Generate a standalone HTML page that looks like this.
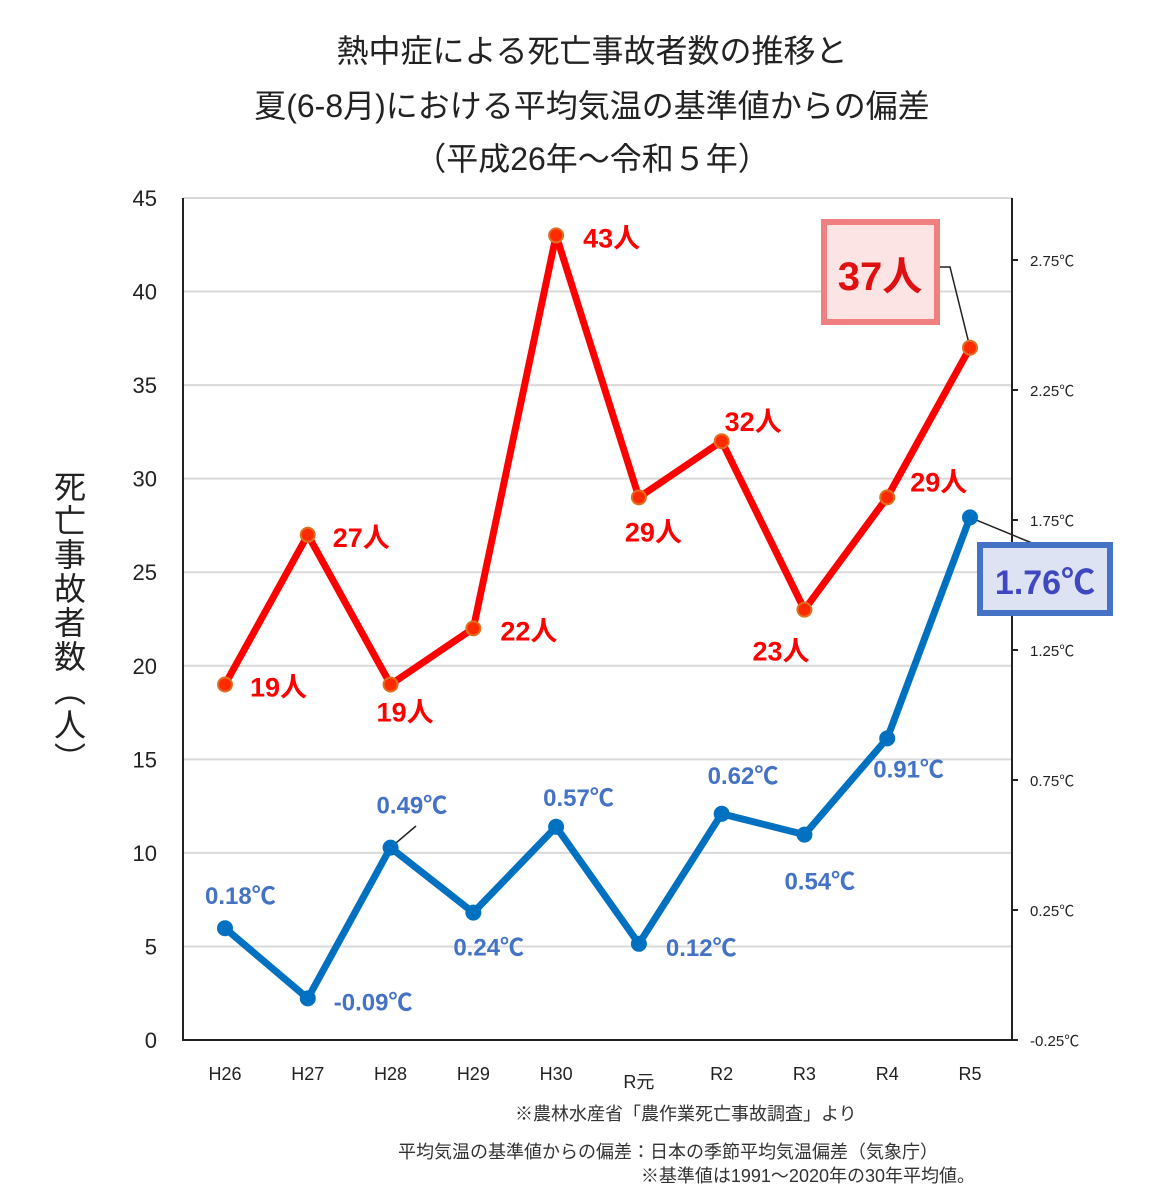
<!DOCTYPE html>
<html><head><meta charset="utf-8"><style>
body{margin:0;background:#fff}
svg{display:block;font-family:"Liberation Sans","Noto Sans CJK JP",sans-serif}
</style></head><body>
<svg id="c" width="1163" height="1200" viewBox="0 0 1163 1200">
<g font-size="32" fill="#222" text-anchor="middle">
<text x="592" y="62">熱中症による死亡事故者数の推移と</text>
<text x="592" y="117">夏(6-8月)における平均気温の基準値からの偏差</text>
<text x="592" y="170">（平成26年～令和５年）</text>
</g>
<text font-size="32" fill="#222" writing-mode="tb" x="68" y="470" style="writing-mode:vertical-rl" letter-spacing="2">死亡事故者数（人）</text>
<g font-size="18" fill="#333">
<text x="515" y="1120">※農林水産省「農作業死亡事故調査」より</text>
<text x="398" y="1158">平均気温の基準値からの偏差：日本の季節平均気温偏差（気象庁）</text>
<text x="975" y="1182" text-anchor="end">※基準値は1991～2020年の30年平均値。</text>
</g>
</svg>
<script>
const categories=["H26","H27","H28","H29","H30","R元","R2","R3","R4","R5"];
const deaths=[19,27,19,22,43,29,32,23,29,37];
const temps=[0.18,-0.09,0.49,0.24,0.57,0.12,0.62,0.54,0.91,1.76];
const leftTicks=[0,5,10,15,20,25,30,35,40,45];
const rightTicks=[-0.25,0.25,0.75,1.25,1.75,2.25,2.75];
const NS="http://www.w3.org/2000/svg";
const svg=document.getElementById('c');
const X0=183,X1=1012,Y0=1040,Y45=198;
const xs=i=>225+i*(970-225)/(categories.length-1);
const yL=v=>Y0-(v/45)*(Y0-Y45);
const yR=v=>Y0-(v+0.25)*260;
function mk(tag,at,parent){const e=document.createElementNS(NS,tag);for(const k in at)e.setAttribute(k,at[k]);(parent||svg).appendChild(e);return e;}
// grid
leftTicks.forEach(t=>{
 if(t>0){const g=mk('line',{x1:X0,x2:X1,y1:yL(t),y2:yL(t),stroke:'#d9d9d9','stroke-width':2});
 
 }
 const tx=mk('text',{x:157,y:yL(t)+8,'text-anchor':'end','font-size':22,fill:'#222'});
 tx.textContent=t;
 
 
});
rightTicks.forEach(t=>{
 const l=mk('line',{x1:X1,x2:X1+6,y1:yR(t),y2:yR(t),stroke:'#222','stroke-width':2});
 
 
 const tx=mk('text',{x:1030,y:yR(t)+6,'font-size':15,fill:'#222'});
 tx.textContent=t.toFixed(2)+'℃';
 
 
});
const ax=mk('path',{d:`M${X0} ${Y45}V${Y0}H${X1}V${Y45}`,fill:'none',stroke:'#222','stroke-width':2});


categories.forEach((c,i)=>{
 const tx=mk('text',{x:xs(i),y:c==='R元'?1088:1080,'text-anchor':'middle','font-size':18,fill:'#222'});
 tx.textContent=c;
 
 
});
// red line
const rp=mk('polyline',{points:deaths.map((v,i)=>xs(i)+','+yL(v)).join(' '),fill:'none',stroke:'#ff0000','stroke-width':7,'stroke-linejoin':'round'});


const bp=mk('polyline',{points:temps.map((v,i)=>xs(i)+','+yR(v)).join(' '),fill:'none',stroke:'#0070c0','stroke-width':7,'stroke-linejoin':'round'});


const rOff=[[25,12],[25,12],[-14,37],[27,12],[27,12],[-14,44],[3,-10],[-52,51],[23,-6]];
const bOff=[[-20,-24],[26,12],[-14,-34],[-20,43],[-13,-21],[27,12],[-14,-30],[-20,55],[-14,39]];
// leader lines
const l1=mk('path',{d:`M937 267H950L${xs(9)} ${yL(37)}`,fill:'none',stroke:'#222','stroke-width':1.5});


const l2=mk('path',{d:`M${xs(9)} ${yR(1.76)}L1032 543`,fill:'none',stroke:'#222','stroke-width':1.5});


const l3=mk('path',{d:`M${xs(2)} ${yR(0.49)}L416 826`,fill:'none',stroke:'#222','stroke-width':1.5});


deaths.forEach((v,i)=>{
 const p=mk('circle',{cx:xs(i),cy:yL(v),r:7,fill:'#ff2a00',stroke:'#e07020','stroke-width':2});
 
 
 if(i<9){const t=mk('text',{x:xs(i)+rOff[i][0],y:yL(v)+rOff[i][1],'font-size':27,'font-weight':'bold',fill:'#ff0000'});
 t.textContent=v+'人';
 
 }
});
temps.forEach((v,i)=>{
 const p=mk('circle',{cx:xs(i),cy:yR(v),r:8,fill:'#0070c0'});
 
 
 if(i<9){const t=mk('text',{x:xs(i)+bOff[i][0],y:yR(v)+bOff[i][1],'font-size':24,'font-weight':'bold',fill:'#4472c4'});
 t.textContent=v.toFixed(2)+'℃';
 
 }
});
// callouts
const b1=mk('rect',{x:824,y:222,width:113,height:100,fill:'#fde4e4',stroke:'#f08080','stroke-width':6});


const t1=mk('text',{x:880,y:290,'text-anchor':'middle','font-size':40,'font-weight':'bold',fill:'#e01010'});
t1.textContent=deaths[9]+'人';


const b2=mk('rect',{x:980,y:545,width:130,height:68,fill:'#dde3f3',stroke:'#4472c4','stroke-width':6});


const t2=mk('text',{x:1045,y:594,'text-anchor':'middle','font-size':34,'font-weight':'bold',fill:'#3f48c0'});
t2.textContent=temps[9].toFixed(2)+'℃';


</script>
</body></html>
